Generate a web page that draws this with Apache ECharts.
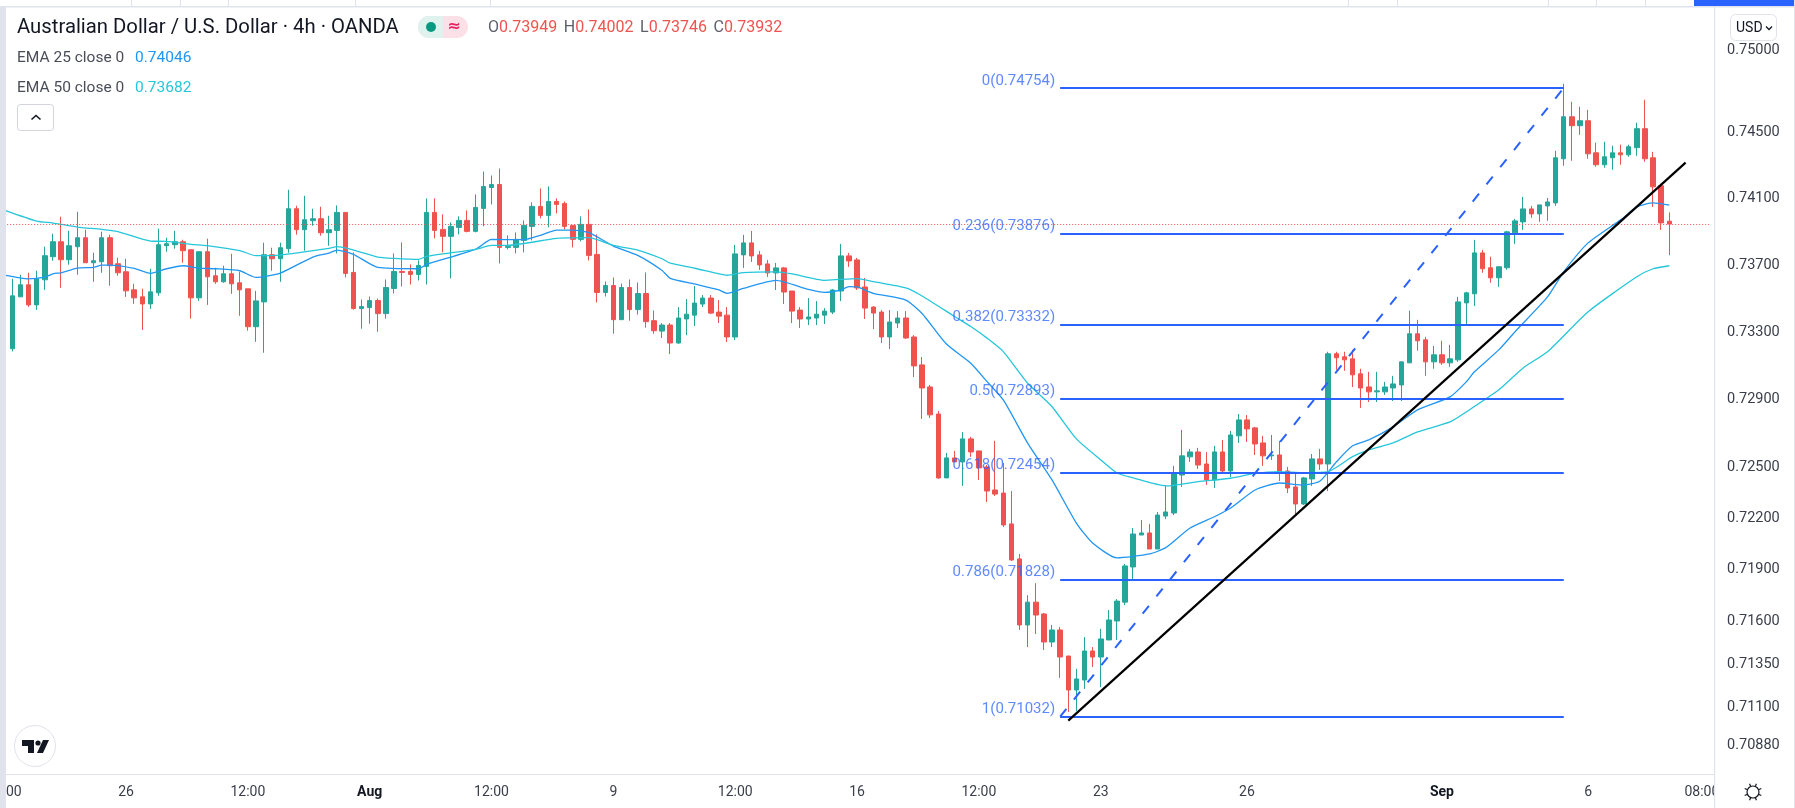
<!DOCTYPE html>
<html>

<head>
    <meta charset="utf-8">
    <title>AUD/USD 4h</title>
    <script type="text/javascript" src="https://cdn.jsdelivr.net/npm/echarts@6/dist/echarts.min.js"></script>
    <style>
        html, body { margin: 0; padding: 0; background: #fff; }
    </style>
</head>

<body>
    <div id="main" style="width: 1795px;height:808px;"></div>
</body>

</html>
<script>
    // candles, oldest first
    var candleOpen = [
        .73187,.73496,.73568,.73448,.73598,.73736,.73826,.73718,.73796,.7385,
        .737,.73706,.7385,.73694,.73646,.73538,.73496,.73454,.7352,.73802,
        .73808,.73826,.73778,.7349,.73766,.73622,.73586,.73634,.7358,.73544,
        .73318,.73466,.73748,.73724,.73784,.74024,.73898,.73952,.73964,.7388,
        .73894,.74002,.73642,.73426,.73432,.73474,.73396,.73546,.73648,.73648,
        .7363,.73678,.74002,.739,.73858,.73912,.73954,.73888,.74026,.74152,
        .7417,.73792,.73792,.73834,.73918,.74038,.73984,.74068,.74056,.73924,
        .7384,.7393,.7375,.73522,.73564,.7336,.73552,.7342,.73516,.73354,
        .73292,.73328,.73221,.73364,.73387,.73453,.73489,.73405,.73387,.73257,
        .73747,.73819,.73747,.73693,.73639,.73669,.73531,.73417,.73364,.7337,
        .73387,.73405,.73531,.73741,.73717,.73555,.73435,.73405,.73257,.7334,
        .7337,.73257,.73091,.7296,.728,.72423,.72541,.72517,.72653,.72582,
        .72488,.72352,.72334,.72153,.71948,.71563,.71696,.71627,.71464,.71534,
        .71383,.71186,.71244,.71412,.71377,.71476,.71586,.71696,.71901,.72088,
        .721,.72006,.72199,.72217,.7244,.72547,.72576,.72505,.72411,.72576,
        .72464,.72671,.72765,.72718,.72629,.72553,.72558,.72464,.7237,.7227,
        .72417,.72535,.72505,.73157,.73139,.73127,.73038,.7296,.72931,.72931,
        .72954,.72972,.73103,.73276,.7324,.73109,.73151,.73103,.73121,.7346,
        .73514,.73759,.7367,.7361,.7367,.73879,.73945,.74023,.73993,.74041,
        .74059,.74325,.74579,.74525,.74555,.74361,.74289,.74331,.74361,.74349,
        .74392,.74507,.74331,.74162,.73949
    ];
    var candleClose = [
        .73502,.73568,.73448,.73604,.73742,.73826,.73718,.73802,.7385,.737,
        .73712,.7385,.73682,.7364,.73532,.7349,.73454,.73526,.73808,.73814,
        .73826,.73772,.7349,.73766,.73616,.73586,.73634,.73574,.73538,.73318,
        .73472,.73748,.73724,.7379,.74024,.73898,.73958,.73964,.7388,.73898,
        .74002,.73636,.73426,.73438,.73474,.73396,.73552,.73648,.73642,.7363,
        .73684,.74002,.73894,.73858,.73918,.73954,.73888,.74032,.74158,.7417,
        .73792,.73798,.7384,.73924,.74038,.73984,.74068,.7405,.73918,.7384,
        .7393,.73744,.73522,.73564,.7336,.73552,.7342,.73516,.73348,.73294,
        .73328,.73221,.7337,.73393,.73459,.73489,.73399,.73381,.73257,.73753,
        .73819,.73741,.73687,.73639,.73669,.73525,.73411,.73364,.73376,.73393,
        .73411,.73537,.73741,.73711,.73549,.73429,.73399,.73257,.73346,.7337,
        .73251,.73085,.72954,.72795,.72423,.72541,.72517,.72653,.72576,.72482,
        .72346,.72328,.72147,.71942,.71563,.71696,.71621,.71464,.71534,.71377,
        .71186,.7125,.71412,.71377,.71482,.71592,.71702,.71907,.72094,.721,
        .72006,.72205,.72223,.72452,.72553,.72576,.72499,.72411,.72576,.72464,
        .72676,.72765,.72712,.72623,.72553,.72558,.72458,.72364,.7227,.72423,
        .72535,.72505,.73157,.73133,.73121,.73032,.72954,.72931,.72937,.7296,
        .72978,.73109,.73276,.73234,.73109,.73151,.73103,.73127,.73466,.7352,
        .73759,.73664,.7361,.73676,.73885,.73951,.74023,.73993,.74047,.74065,
        .74331,.74579,.74525,.74555,.74355,.74289,.74337,.74361,.74349,.74398,
        .74507,.74325,.74156,.73939,.73932
    ];
    var candleLow = [
        .73171,.73496,.73436,.73418,.73538,.73712,.7355,.73688,.73628,.737,
        .73586,.7364,.73562,.73622,.73496,.73454,.73299,.73424,.73502,.73766,
        .73784,.737,.73366,.73472,.73448,.73574,.7358,.73514,.73383,.73294,
        .73228,.73163,.73652,.73586,.7376,.73868,.73772,.73922,.73862,.73802,
        .73756,.73612,.7342,.73306,.73336,.73288,.73366,.73516,.73558,.7357,
        .73594,.7357,.73846,.73762,.73606,.7387,.73882,.73882,.73918,.7405,
        .73696,.7378,.73756,.73762,.73834,.73966,.73912,.73996,.739,.73792,
        .73828,.73714,.73462,.73498,.73276,.7336,.73354,.7339,.73312,.73276,
        .73251,.73156,.73217,.73268,.73322,.73435,.73393,.7334,.73227,.73239,
        .73669,.73705,.73657,.73615,.73537,.73453,.7334,.7331,.73328,.73328,
        .73334,.73393,.73471,.73675,.73537,.73364,.73304,.73221,.73185,.7331,
        .73245,.73019,.72771,.72777,.72417,.72423,.72517,.72376,.72547,.72411,
        .72281,.72317,.72135,.71936,.71534,.71435,.71511,.71418,.71435,.71256,
        .71059,.71064,.71192,.71319,.71203,.71476,.71476,.71679,.71825,.72088,
        .72006,.72006,.72181,.72205,.7237,.72517,.72476,.72381,.72364,.72458,
        .72429,.72629,.72635,.72558,.72494,.72529,.72405,.72334,.72205,.72264,
        .72376,.7247,.72346,.73062,.73056,.7296,.72836,.72871,.72871,.72913,
        .72877,.72877,.73103,.73175,.73026,.73068,.73091,.73079,.73109,.73329,
        .73442,.7364,.7358,.73556,.73658,.73813,.73897,.73969,.73945,.73951,
        .74041,.74283,.74313,.7447,.74325,.74277,.74271,.74259,.74289,.74337,
        .74343,.74307,.74035,.73897,.73746
    ];
    var candleHigh = [
        .73604,.73628,.7364,.73652,.73796,.73874,.73976,.73892,.74006,.73898,
        .7376,.73886,.73868,.7373,.73724,.73574,.73544,.73664,.73904,.7385,
        .73892,.73838,.73778,.73766,.73844,.7367,.73682,.73754,.73646,.73544,
        .73532,.7382,.7379,.7382,.74138,.74042,.74102,.74024,.74036,.73982,
        .74044,.74002,.73762,.7348,.73498,.73486,.736,.73756,.73822,.7369,
        .73714,.74086,.74086,.7399,.73942,.73978,.74014,.7411,.74248,.74224,
        .74266,.73864,.73882,.73954,.74062,.74146,.74158,.74086,.74068,.73924,
        .73978,.7402,.7387,.73588,.73612,.73576,.736,.73582,.73642,.73414,
        .7334,.7334,.73435,.73483,.73561,.73507,.73507,.73477,.73435,.73807,
        .73867,.73891,.73771,.73717,.73699,.73675,.73531,.73435,.73489,.73471,
        .73429,.73543,.73813,.73759,.73729,.73609,.73441,.73417,.73417,.73411,
        .73411,.73268,.73138,.72972,.72818,.7257,.72582,.72694,.72665,.72582,
        .72499,.72641,.72511,.72346,.71977,.71737,.71807,.71633,.71563,.71551,
        .71383,.71308,.71493,.71435,.7154,.7165,.71714,.71919,.72129,.72176,
        .72153,.72223,.72381,.72494,.72706,.72594,.726,.72576,.72612,.72647,
        .727,.728,.72794,.72724,.72671,.72676,.72641,.72488,.72446,.72429,
        .72564,.72594,.73169,.73169,.73169,.73181,.73068,.7305,.7305,.7299,
        .73026,.73109,.73413,.73359,.73258,.73204,.73234,.7321,.73496,.73526,
        .73837,.73777,.73736,.73676,.73891,.73963,.74095,.74041,.74047,.74089,
        .74373,.74779,.7467,.7464,.74621,.74422,.74428,.74404,.7441,.7441,
        .74543,.74682,.74367,.74174,.74002
    ];

    // EMA lines, read at the bars where they bend
    var ema25Bars = [0,3,5,6,7,9,11,12,13,16,18,20,22,24,26,29,31,34,38,40,41,43,46,51,52,58,60,64,66,68,70,72,75,78,81,82,85,88,89,91,95,99,101,103,104,105,107,111,113,116,119,121,123,126,129,132,134,137,141,143,146,149,151,154,157,160,162,164,166,168,171,174,178,180,181,184,186,190,192,195,199,201,203,205];
    var ema25Vals = [.73626,.73604,.73614,.73634,.7364,.73668,.73672,.73686,.73686,.73666,.73636,.73664,.73682,.73668,.73664,.73652,.73612,.73638,.73734,.73758,.73776,.7375,.73672,.73664,.7369,.7378,.7384,.73838,.73864,.73896,.73896,.7388,.738,.73744,.73654,.73607,.73573,.73537,.73517,.73547,.73595,.73541,.73523,.73537,.73557,.73555,.73517,.73477,.73397,.73215,.73101,.72992,.72883,.72628,.72411,.72158,.72041,.71954,.71977,.72014,.72129,.72195,.72246,.72352,.72393,.72381,.72405,.72517,.72612,.72647,.72724,.72824,.72901,.7299,.7305,.7318,.73288,.73496,.73646,.73819,.73957,.74035,.74059,.74046];
    var ema50Bars = [0,4,6,9,12,14,18,20,23,25,29,31,34,40,41,43,46,48,51,52,58,60,62,68,72,75,78,81,82,85,88,89,91,95,97,101,103,105,107,111,113,117,119,121,123,126,129,132,135,137,139,143,147,151,154,157,160,163,166,168,171,174,178,180,184,187,190,195,201,203,205];
    var ema50Vals = [.74016,.7395,.73938,.73914,.739,.73886,.7383,.73828,.7381,.73802,.73772,.73742,.73746,.73786,.73796,.73776,.73734,.73726,.7372,.73738,.7378,.73804,.73804,.73846,.7385,.73804,.73776,.73724,.73697,.73667,.73633,.73625,.73641,.73645,.73633,.73595,.73601,.73605,.73587,.73549,.73501,.73379,.73319,.7325,.7317,.72982,.72843,.72653,.72529,.72452,.72423,.72376,.72401,.72421,.7245,.7246,.72454,.7246,.72548,.72588,.72629,.72694,.72753,.72812,.72943,.73073,.73169,.73407,.73616,.73664,.73682];

    // fibonacci levels
    var fibRatios = ['0', '0.236', '0.382', '0.5', '0.618', '0.786', '1'];
    var fibPrices = [0.74754, 0.73876, 0.73332, 0.72893, 0.72454, 0.71828, 0.71032];
    var fibStartBar = 130;
    var fibEndBar = 192;

    // trend line and last price
    var trendBars = [131, 207];
    var trendPrices = [0.71009, 0.74302];
    var lastPrice = 0.73932;
    var lastPriceBars = [0, 210];

    // axis
    var priceTicks = [0.75, 0.745, 0.741, 0.737, 0.733, 0.729, 0.725, 0.722, 0.719, 0.716, 0.7135, 0.711, 0.7088];
    var timeTickBars = [0, 15, 30, 45, 60, 75, 90, 105, 120, 135, 153, 177, 195, 209];
    var timeTickLabels = ['12:00', '26', '12:00', 'Aug', '12:00', '9', '12:00', '16', '12:00', '23', '26', 'Sep', '6', '08:00'];
    var barCount = 211;

    var FONT = 'Roboto';
    var GREEN = '#26a69a';
    var RED = '#ef5350';
    var BORDER = '#e0e3eb';
    var FIB_BLUE = '#2962ff';

    var categories = [];
    for (var i = 0; i < barCount; i++) {
        categories.push('');
    }
    for (var i = 0; i < timeTickBars.length; i++) {
        categories[timeTickBars[i]] = timeTickLabels[i];
    }

    // bar 0 stays empty, it only holds the cut off label on the left
    var candles = [['-', '-', '-', '-']];
    for (var i = 0; i < candleOpen.length; i++) {
        candles.push([candleOpen[i], candleClose[i], candleLow[i], candleHigh[i]]);
    }

    function zip(bars, vals) {
        var d = [];
        for (var i = 0; i < bars.length; i++) {
            d.push([bars[i], vals[i]]);
        }
        return d;
    }

    // drawings
    var marks = [];
    for (var i = 0; i < fibPrices.length; i++) {
        marks.push([
            {
                coord: [fibStartBar, fibPrices[i]],
                lineStyle: { color: FIB_BLUE, width: 2, type: 'solid' },
                label: {
                    show: true,
                    position: 'start',
                    distance: 5,
                    formatter: '{a|' + fibRatios[i] + '(' + fibPrices[i].toFixed(5) + ')}',
                    rich: {
                        a: {
                            color: 'rgba(41,98,255,0.75)',
                            fontFamily: FONT,
                            fontSize: 15,
                            padding: [0, 0, 14, 0]
                        }
                    }
                }
            },
            { coord: [fibEndBar, fibPrices[i]] }
        ]);
    }
    marks.push([
        {
            coord: [fibStartBar, fibPrices[6]],
            lineStyle: { color: FIB_BLUE, width: 2, type: [10, 12] },
            label: { show: false }
        },
        { coord: [fibEndBar, fibPrices[0]] }
    ]);
    marks.push([
        {
            coord: [trendBars[0], trendPrices[0]],
            lineStyle: { color: '#000', width: 2.2, type: 'solid' },
            label: { show: false }
        },
        { coord: [trendBars[1], trendPrices[1]] }
    ]);

    // interface parts around the plot
    var sun = [{ type: 'circle', z: 101, shape: { cx: 1753, cy: 792, r: 6 }, style: { fill: '#fff', stroke: '#131722', lineWidth: 1.2 } }];
    for (var i = 0; i < 8; i++) {
        var a = i * Math.PI / 4 + Math.PI / 8;
        sun.push({
            type: 'line',
            z: 101,
            shape: {
                x1: 1753 + 6 * Math.cos(a), y1: 792 + 6 * Math.sin(a),
                x2: 1753 + 9 * Math.cos(a), y2: 792 + 9 * Math.sin(a)
            },
            style: { stroke: '#131722', lineWidth: 1.2 }
        });
    }

    var topSeparators = [131, 180, 228, 355, 490, 1348, 1397, 1548, 1596, 1645];
    var frame = [
        { type: 'rect', shape: { x: 0, y: 0, width: 6, height: 808 }, style: { fill: BORDER } },
        { type: 'rect', shape: { x: 0, y: 0, width: 1795, height: 6 }, style: { fill: '#fff' } },
        { type: 'rect', shape: { x: 0, y: 6, width: 1795, height: 1.5 }, style: { fill: BORDER } },
        { type: 'rect', shape: { x: 1694, y: 0, width: 100, height: 6 }, style: { fill: FIB_BLUE } },
        { type: 'rect', shape: { x: 1794, y: 0, width: 1, height: 808 }, style: { fill: BORDER } },
        // hides the part of the last time label that runs under the price scale
        { type: 'rect', shape: { x: 1715, y: 776, width: 78, height: 32 }, style: { fill: '#fff' } },
        { type: 'rect', shape: { x: 1714, y: 7, width: 1.2, height: 801 }, style: { fill: BORDER } }
    ];
    for (var i = 0; i < topSeparators.length; i++) {
        frame.push({ type: 'rect', shape: { x: topSeparators[i], y: 0, width: 1, height: 6 }, style: { fill: BORDER } });
    }

    var header = [
        {
            type: 'text', x: 17, y: 28,
            style: { text: 'Australian Dollar / U.S. Dollar · 4h · OANDA', fill: '#131722', fontFamily: FONT, fontSize: 20.3, verticalAlign: 'middle' }
        },
        { type: 'rect', shape: { x: 418, y: 16, width: 50, height: 22, r: 11 }, style: { fill: '#fce0e8' } },
        { type: 'rect', shape: { x: 418, y: 16, width: 25, height: 22, r: [11, 0, 0, 11] }, style: { fill: '#dff2ee' } },
        { type: 'circle', shape: { cx: 431, cy: 27, r: 5 }, style: { fill: '#089981' } },
        {
            type: 'text', x: 454, y: 26.5,
            style: { text: '≈', fill: '#e91e63', fontFamily: 'DejaVu Sans', fontSize: 16, fontWeight: 'bold', align: 'center', verticalAlign: 'middle' }
        },
        {
            type: 'text', x: 488, y: 28,
            style: {
                text: '{k|O}{v|0.73949}  {k|H}{v|0.74002}  {k|L}{v|0.73746}  {k|C}{v|0.73932}',
                verticalAlign: 'middle',
                rich: {
                    k: { fill: '#5d606b', fontFamily: FONT, fontSize: 16 },
                    v: { fill: RED, fontFamily: FONT, fontSize: 16 }
                }
            }
        },
        {
            type: 'text', x: 17, y: 58,
            style: { text: 'EMA 25 close 0', fill: '#4a4d58', fontFamily: FONT, fontSize: 15.5, verticalAlign: 'middle' }
        },
        {
            type: 'text', x: 135, y: 58,
            style: { text: '0.74046', fill: '#2196f3', fontFamily: FONT, fontSize: 15.5, verticalAlign: 'middle' }
        },
        {
            type: 'text', x: 17, y: 88,
            style: { text: 'EMA 50 close 0', fill: '#4a4d58', fontFamily: FONT, fontSize: 15.5, verticalAlign: 'middle' }
        },
        {
            type: 'text', x: 135, y: 88,
            style: { text: '0.73682', fill: '#26c6da', fontFamily: FONT, fontSize: 15.5, verticalAlign: 'middle' }
        },
        { type: 'rect', shape: { x: 17.5, y: 104.5, width: 36, height: 26, r: 3 }, style: { fill: '#fff', stroke: '#d1d4dc', lineWidth: 1 } },
        { type: 'polyline', shape: { points: [[31.5, 119.5], [36, 115.5], [40.5, 119.5]] }, style: { fill: 'none', stroke: '#131722', lineWidth: 1.6 } },
        // currency button
        { type: 'rect', shape: { x: 1730.5, y: 14.5, width: 46, height: 26, r: 5 }, style: { fill: '#fff', stroke: '#e0e3eb', lineWidth: 1 } },
        {
            type: 'text', x: 1736, y: 28,
            style: { text: 'USD', fill: '#131722', fontFamily: FONT, fontSize: 14, verticalAlign: 'middle' }
        },
        { type: 'polyline', shape: { points: [[1766, 26.5], [1769, 29.5], [1772, 26.5]] }, style: { fill: 'none', stroke: '#131722', lineWidth: 1.3 } },
        // logo
        { type: 'circle', shape: { cx: 35, cy: 746, r: 20.5 }, style: { fill: '#fff', stroke: '#e0e3eb', lineWidth: 1 } },
        { type: 'polygon', shape: { points: [[22, 740], [34, 740], [34, 753], [28, 753], [28, 746], [22, 746]] }, style: { fill: '#131722' } },
        { type: 'circle', shape: { cx: 38, cy: 743, r: 2.6 }, style: { fill: '#131722' } },
        { type: 'polygon', shape: { points: [[43, 740], [49, 740], [43, 753], [37, 753]] }, style: { fill: '#131722' } }
    ];

    // z of a group does not reach its children
    for (var i = 0; i < frame.length; i++) {
        frame[i].z = 100;
    }
    for (var i = 0; i < header.length; i++) {
        header[i].z = 101;
    }

    var chart = echarts.init(document.getElementById('main'));

    var option = {
        backgroundColor: '#fff',
        animation: false,
        grid: { left: 0.12, top: 7, width: 1713.9, height: 767, outerBoundsMode: 'none' },
        xAxis: {
            type: 'category',
            data: categories,
            boundaryGap: true,
            axisLine: { show: true, lineStyle: { color: BORDER, width: 1 } },
            axisTick: { show: false },
            splitLine: { show: false },
            axisLabel: {
                interval: 0,
                hideOverlap: false,
                margin: 11,
                color: '#3a3e4a',
                fontFamily: FONT,
                fontSize: 14,
                formatter: function (name) {
                    if (name === 'Aug' || name === 'Sep') {
                        return '{b|' + name + '}';
                    }
                    return name;
                },
                rich: {
                    b: { fontWeight: 'bold', color: '#131722', fontFamily: FONT, fontSize: 14 }
                }
            }
        },
        yAxis: {
            type: 'log',
            logBase: 10,
            position: 'right',
            min: 0.70702,
            max: 0.75247,
            scale: true,
            axisLine: { show: false },
            axisTick: { show: false },
            splitLine: { show: false },
            minorSplitLine: { show: false },
            axisLabel: {
                show: true,
                margin: 13,
                customValues: priceTicks,
                formatter: function (value) {
                    return '{p|' + Number(value).toFixed(5) + '}';
                },
                rich: {
                    p: {
                        color: '#3a3e4a',
                        fontFamily: FONT,
                        fontSize: 14.5,
                        padding: [5, 0, 0, 0]
                    }
                }
            }
        },
        graphic: { elements: [
            { type: 'group', children: frame },
            { type: 'group', children: header },
            { type: 'group', children: sun }
        ] },
        series: [
            {
                name: 'AUD/USD',
                type: 'candlestick',
                barWidth: 5,
                data: candles,
                z: 2,
                itemStyle: {
                    color: GREEN,
                    color0: RED,
                    borderColor: GREEN,
                    borderColor0: RED,
                    borderWidth: 1
                }
            },
            {
                name: 'EMA 25',
                type: 'line',
                data: zip(ema25Bars, ema25Vals),
                symbol: 'none',
                smooth: 0.2,
                z: 3,
                lineStyle: { color: '#2196f3', width: 1.3 }
            },
            {
                name: 'EMA 50',
                type: 'line',
                data: zip(ema50Bars, ema50Vals),
                symbol: 'none',
                smooth: 0.2,
                z: 3,
                lineStyle: { color: '#26c6da', width: 1.3 },
                // last price
                markLine: {
                    silent: true,
                    symbol: 'none',
                    animation: false,
                    label: { show: false },
                    lineStyle: { color: RED, width: 1, type: [1, 2] },
                    data: [[
                        { coord: [lastPriceBars[0], lastPrice] },
                        { coord: [lastPriceBars[1], lastPrice] }
                    ]]
                }
            },
            {
                name: 'drawings',
                type: 'line',
                data: [[fibStartBar, fibPrices[6]]],
                symbol: 'none',
                z: 4,
                markLine: {
                    silent: true,
                    symbol: 'none',
                    animation: false,
                    data: marks
                }
            }
        ]
    };
    chart.setOption(option);
</script>
